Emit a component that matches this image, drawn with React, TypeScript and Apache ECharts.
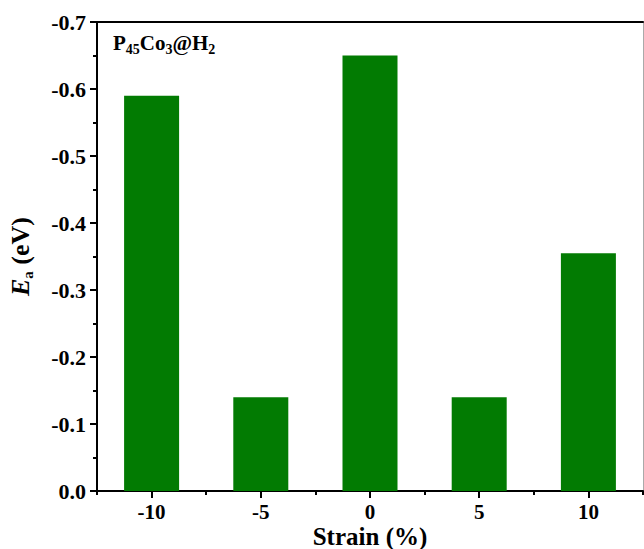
import React, { useEffect, useRef } from "react";
import * as echarts from "echarts";

const categories = ["-10", "-5", "0", "5", "10"];
const energies = [-0.59, -0.14, -0.65, -0.14, -0.355];
const yTicks = { min: -0.7, max: 0, interval: 0.1 };

const FONT = "'Liberation Serif', 'Times New Roman', serif";

export default function App() {
  const ref = useRef<HTMLDivElement>(null);
  useEffect(() => {
    document.body.style.margin = "0";
    const chart = echarts.init(ref.current!, null, { renderer: "svg" });
    const axisLine = { show: true, lineStyle: { color: "#000", width: 2 } };
    chart.setOption({
      animation: false,
      backgroundColor: "#fff",
      textStyle: { fontFamily: FONT },
      grid: { left: 97, right: 1, top: 22, bottom: 58, containLabel: false, outerBoundsMode: "none" },
      graphic: [
        {
          type: "text",
          left: 113,
          top: 32,
          style: {
            text: "{b|P}{s|45}{b|Co}{s|3}{b|@H}{s|2}",
            rich: {
              b: { fontFamily: FONT, fontWeight: "bold", fontSize: 21, fill: "#000" },
              s: { fontFamily: FONT, fontWeight: "bold", fontSize: 14, fill: "#000", padding: [13, 0, 0, 0] },
            },
          },
        },
      ],
      xAxis: [
        {
          type: "category",
          data: categories,
          position: "bottom",
          axisLine,
          axisTick: { show: true, alignWithLabel: true, length: 7, lineStyle: { width: 2, color: "#000" } },
          axisLabel: { margin: 12, fontFamily: FONT, fontWeight: "bold", fontSize: 21, lineHeight: 18, color: "#000" },
          name: "Strain (%)",
          nameLocation: "middle",
          nameGap: 34,
          nameMoveOverlap: false,
          nameTextStyle: { fontFamily: FONT, fontWeight: "bold", fontSize: 25, lineHeight: 22, color: "#000", verticalAlign: "top" },
          splitLine: { show: false },
        },
        {
          type: "category",
          data: categories,
          position: "bottom",
          axisLine: { show: false },
          axisTick: { show: true, length: 4, lineStyle: { width: 2, color: "#000" } },
          axisLabel: { show: false },
          splitLine: { show: false },
        },
        {
          type: "category",
          data: categories,
          position: "top",
          axisLine,
          axisTick: { show: false },
          axisLabel: { show: false },
        },
      ],
      yAxis: [
        {
          type: "value",
          min: yTicks.min,
          max: yTicks.max,
          interval: yTicks.interval,
          inverse: true,
          axisLine,
          axisTick: { show: true, length: 7, lineStyle: { width: 2, color: "#000" } },
          minorTick: { show: true, splitNumber: 2, length: 4, lineStyle: { width: 2, color: "#000" } },
          splitLine: { show: false },
          axisLabel: {
            margin: 11,
            fontFamily: FONT,
            fontWeight: "bold",
            fontSize: 22,
            color: "#000",
            formatter: (v: number) => (Math.abs(v) < 1e-9 ? "0.0" : v.toFixed(1)),
          },
          name: "{i|E}{s|a}{n| (eV)}",
          nameLocation: "middle",
          nameRotate: 90,
          nameGap: 62,
          nameMoveOverlap: false,
          nameTextStyle: {
            rich: {
              i: { fontFamily: FONT, fontWeight: "bold", fontStyle: "italic", fontSize: 26, color: "#000" },
              s: { fontFamily: FONT, fontWeight: "bold", fontSize: 15, color: "#000", padding: [14, 0, 0, 0] },
              n: { fontFamily: FONT, fontWeight: "bold", fontSize: 26, color: "#000" },
            },
          },
        },
        {
          type: "value",
          min: yTicks.min,
          max: yTicks.max,
          interval: yTicks.interval,
          inverse: true,
          position: "right",
          axisLine: { show: true, lineStyle: { color: "#aaa", width: 1 } },
          axisTick: { show: false },
          axisLabel: { show: false },
          splitLine: { show: false },
        },
      ],
      series: [
        {
          type: "bar",
          data: energies,
          xAxisIndex: 0,
          yAxisIndex: 0,
          barWidth: 55,
          itemStyle: { color: "#027b02" },
        },
      ],
    });
    return () => chart.dispose();
  }, []);
  return <div ref={ref} style={{ position: "fixed", left: 0, top: 0, width: 644, height: 549 }} />;
}
